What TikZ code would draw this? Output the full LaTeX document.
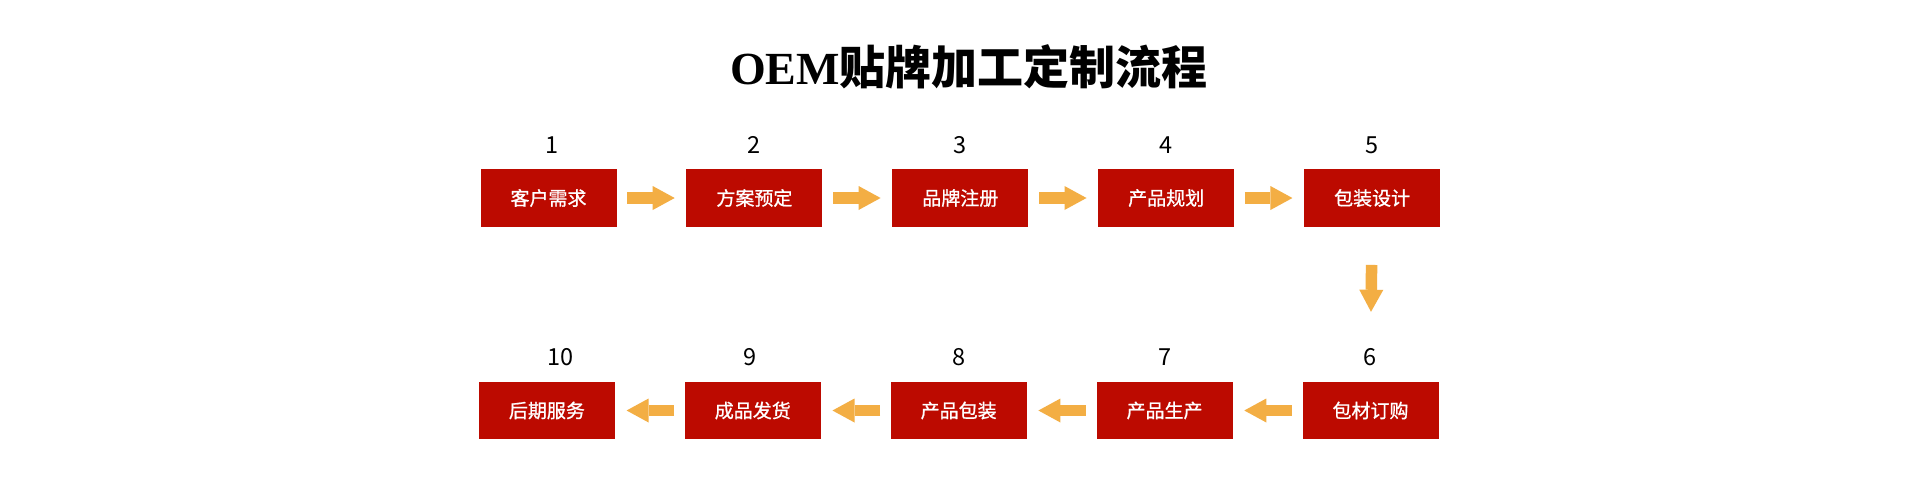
\documentclass[tikz,border=0pt]{standalone}
\usepackage{fontspec}
\setmainfont{Noto Sans CJK SC}
\newfontfamily\titleserif{Liberation Serif}
\newfontfamily\boxfont[FakeBold=1]{Noto Sans CJK SC}
\usetikzlibrary{positioning, arrows.meta}
\definecolor{boxred}{RGB}{188,10,0}
\definecolor{arroworange}{RGB}{243,174,68}

\begin{document}
\begin{tikzpicture}[x=1pt, y=-1pt,
    stepbox/.style={fill=boxred, text=white, minimum width=136pt, minimum height=57.5pt, inner sep=0pt, font=\boxfont\fontsize{19}{19}\selectfont},
    num/.style={inner sep=0pt, font=\fontsize{23.5}{23.5}\selectfont},
    flow/.style={draw=arroworange, line width=11.5pt, -{Triangle[length=22pt, width=24pt, line width=0pt, fill=arroworange]}, shorten <=10.5pt, shorten >=11.5pt}]
    \fill[white] (0,0) rectangle (1920,501);
    \useasboundingbox (0,0) rectangle (1920,501);
    \node[font=\fontsize{46}{46}\selectfont\bfseries] (title) at (969,67) {{\titleserif OEM}贴牌加工定制流程};
    % top row
    \node[stepbox] (b1) at (548.5,198) {客户需求};
    \node[stepbox] (b2) [right=69.5pt of b1] {方案预定};
    \node[stepbox] (b3) [right=69.5pt of b2] {品牌注册};
    \node[stepbox] (b4) [right=69.5pt of b3] {产品规划};
    \node[stepbox] (b5) [right=69.5pt of b4] {包装设计};
    % bottom row
    \node[stepbox] (b6) at (1370.5,410.5) {包材订购};
    \node[stepbox] (b7) [left=69.5pt of b6] {产品生产};
    \node[stepbox] (b8) [left=69.5pt of b7] {产品包装};
    \node[stepbox] (b9) [left=69.5pt of b8] {成品发货};
    \node[stepbox] (b10) [left=69.5pt of b9] {后期服务};
    % numbers
    \node[num] (n1) [above=15.5pt of b1, xshift=4pt] {1};
    \node[num] (n2) [above=15.5pt of b2] {2};
    \node[num] (n3) [above=15.5pt of b3] {3};
    \node[num] (n4) [above=15.5pt of b4] {4};
    \node[num] (n5) [above=15.5pt of b5] {5};
    \node[num] (n6) [above=16pt of b6] {6};
    \node[num] (n7) [above=16pt of b7] {7};
    \node[num] (n8) [above=16pt of b8] {8};
    \node[num] (n9) [above=16pt of b9, xshift=-3pt] {9};
    \node[num] (n10) [above=16pt of b10, xshift=14pt] {10};
    % arrows
    \draw[flow] (b1) -- (b2);
    \draw[flow] (b2) -- (b3);
    \draw[flow] (b3) -- (b4);
    \draw[flow] (b4) -- (b5);
    \draw[flow, shorten <=38pt, shorten >=36pt] (b5.south) -- (n6.north);
    \draw[flow] (b6) -- (b7);
    \draw[flow] (b7) -- (b8);
    \draw[flow] (b8) -- (b9);
    \draw[flow] (b9) -- (b10);
\end{tikzpicture}
\end{document}
